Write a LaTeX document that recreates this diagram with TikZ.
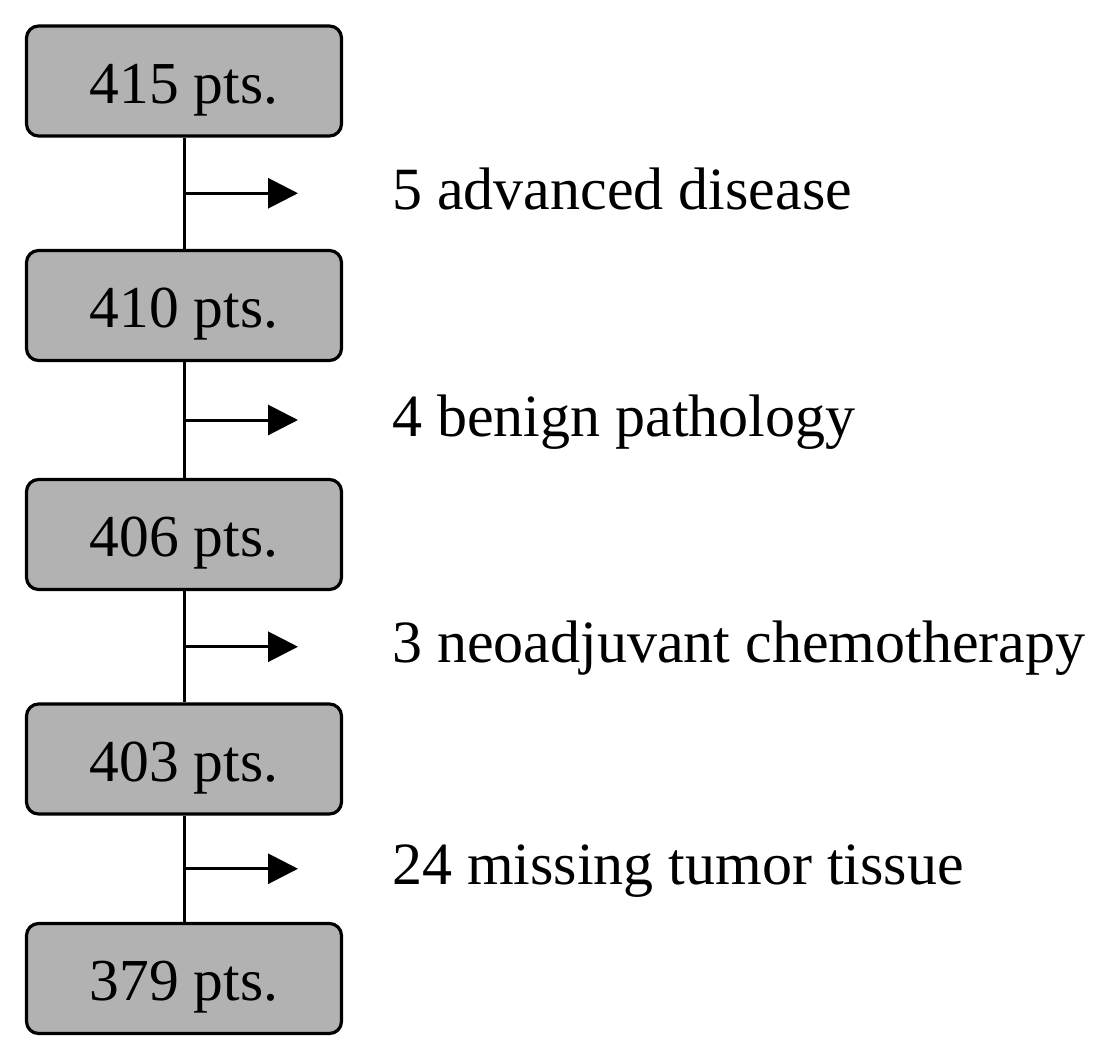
\documentclass[tikz,border=0pt]{standalone}
\usepackage{fontspec}
\setmainfont{Liberation Serif}
\usetikzlibrary{arrows.meta,calc}
\tikzset{
  ptsbox/.style={draw=black, line width=3.2pt, rounded corners=12pt, fill=gray!60,
    minimum width=315pt, minimum height=110pt, inner sep=0pt,
    text height=46pt, text depth=2pt, font=\fontsize{59.5}{62}\selectfont},
  exclabel/.style={anchor=base west, inner sep=0pt, font=\fontsize{60}{62}\selectfont},
  conn/.style={line width=3pt},
  excarrow/.style={line width=3pt, -{Triangle[length=30pt,width=30pt]}}
}
\begin{document}
\begin{tikzpicture}[x=1pt,y=-1pt]
\useasboundingbox (0,0) rectangle (1110,1062);
\node[ptsbox] (b1) at (184,81) {415 pts.};
\node[ptsbox] (b2) at (184,305.5) {410 pts.};
\node[ptsbox] (b3) at (184,534.5) {406 pts.};
\node[ptsbox] (b4) at (184,759) {403 pts.};
\node[ptsbox] (b5) at (184,978.5) {379 pts.};
\foreach \a/\b in {b1/b2,b2/b3,b3/b4,b4/b5}{
  \draw[conn] (\a.south) -- (\b.north);
}
\coordinate (j1) at ($(b1.south)!0.5!(b2.north)$);
\coordinate (j2) at ($(b2.south)!0.5!(b3.north)$);
\coordinate (j3) at ($(b3.south)!0.5!(b4.north)$);
\coordinate (j4) at ($(b4.south)!0.5!(b5.north)$);
\foreach \j in {j1,j2,j3,j4}{
  \coordinate (\j e) at ($(\j)+(114,0)$);
  \draw[excarrow] (\j) -- (\j e);
}
\node[exclabel] (l1) at ($(j1)+(208,16)$) {5 advanced disease};
\node[exclabel] (l2) at ($(j2)+(208,16)$) {4 benign pathology};
\node[exclabel] (l3) at ($(j3)+(208,16)$) {3 neoadjuvant chemotherapy};
\node[exclabel] (l4) at ($(j4)+(208,16)$) {24 missing tumor tissue};
\end{tikzpicture}
\end{document}
